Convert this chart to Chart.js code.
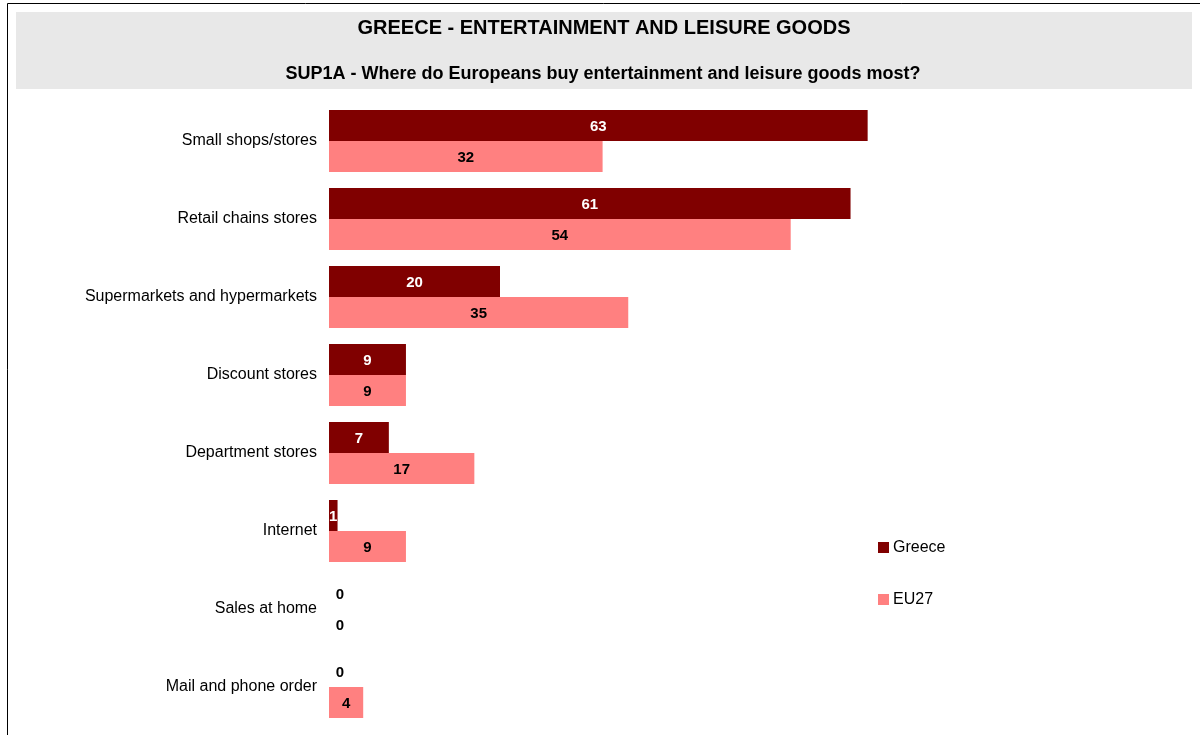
<!DOCTYPE html>
<html>
<head>
<meta charset="utf-8">
<title>Greece - Entertainment and leisure goods</title>
<script src="https://cdn.jsdelivr.net/npm/chart.js"></script>
<style>
  html, body { margin: 0; padding: 0; background: #fff; }
  #wrap { position: relative; width: 1200px; height: 735px; }
</style>
</head>
<body>
<div id="wrap"><canvas id="chart" width="1200" height="735"></canvas></div>
<script>
// chart data
const categories = [
    'Small shops/stores',
    'Retail chains stores',
    'Supermarkets and hypermarkets',
    'Discount stores',
    'Department stores',
    'Internet',
    'Sales at home',
    'Mail and phone order'
];
const greeceValues = [63, 61, 20, 9, 7, 1, 0, 0];
const eu27Values = [32, 54, 35, 9, 17, 9, 0, 4];
const seriesNames = ['Greece', 'EU27'];

const chartTitle = 'GREECE - ENTERTAINMENT AND LEISURE GOODS';
const chartSubtitle = 'SUP1A - Where do Europeans buy entertainment and leisure goods most?';

const COLORS = {
    greece: '#800000',
    eu27: '#ff8080',
    titleBox: '#e8e8e8',
    text: '#000000'
};
const FONT = "Arial, 'Liberation Sans', sans-serif";

// frame + grey title box
const frameAndTitle = {
    id: 'frameAndTitle',
    beforeDraw(chart) {
        const ctx = chart.ctx;
        ctx.save();
        ctx.fillStyle = '#fff';
        ctx.fillRect(0, 0, chart.width, chart.height);
        ctx.fillStyle = COLORS.titleBox;
        ctx.fillRect(16, 12, 1176, 77);
        ctx.strokeStyle = '#000';
        ctx.lineWidth = 1;
        ctx.beginPath();
        ctx.moveTo(7.5, chart.height);
        ctx.lineTo(7.5, 3.5);
        ctx.lineTo(chart.width, 3.5);
        ctx.stroke();
        ctx.fillStyle = COLORS.text;
        ctx.textAlign = 'center';
        ctx.textBaseline = 'middle';
        ctx.font = 'bold 20px ' + FONT;
        ctx.fillText(chartTitle, 604, 28);
        ctx.font = 'bold 18px ' + FONT;
        ctx.fillText(chartSubtitle, 603, 74);
        ctx.restore();
    }
};

// value labels inside the bars
const barLabels = {
    id: 'barLabels',
    afterDatasetsDraw(chart) {
        const ctx = chart.ctx;
        ctx.save();
        ctx.font = 'bold 15px ' + FONT;
        ctx.textAlign = 'center';
        ctx.textBaseline = 'middle';
        chart.data.datasets.forEach((ds, i) => {
            const meta = chart.getDatasetMeta(i);
            meta.data.forEach((bar, j) => {
                const v = ds.data[j];
                let x = (bar.x + bar.base) / 2;
                if (v === 0) {
                    x = bar.base + 11;
                    ctx.fillStyle = COLORS.text;
                } else {
                    ctx.fillStyle = i === 0 ? '#ffffff' : COLORS.text;
                }
                ctx.fillText(String(v), x, bar.y + 1);
            });
        });
        ctx.restore();
    }
};

// legend on the right
const sideLegend = {
    id: 'sideLegend',
    afterDraw(chart) {
        const ctx = chart.ctx;
        ctx.save();
        ctx.font = '16px ' + FONT;
        ctx.textBaseline = 'middle';
        ctx.textAlign = 'left';
        const ys = [547, 599];
        chart.data.datasets.forEach((ds, i) => {
            ctx.fillStyle = ds.backgroundColor;
            ctx.fillRect(878, ys[i] - 5, 11, 11);
            ctx.fillStyle = COLORS.text;
            ctx.fillText(ds.label, 893, ys[i] + 1);
        });
        ctx.restore();
    }
};

new Chart(document.getElementById('chart').getContext('2d'), {
    type: 'bar',
    data: {
        labels: categories,
        datasets: [
            {
                label: seriesNames[0],
                data: greeceValues,
                backgroundColor: COLORS.greece,
                categoryPercentage: 0.795,
                barPercentage: 1
            },
            {
                label: seriesNames[1],
                data: eu27Values,
                backgroundColor: COLORS.eu27,
                categoryPercentage: 0.795,
                barPercentage: 1
            }
        ]
    },
    options: {
        indexAxis: 'y',
        responsive: false,
        animation: false,
        layout: {
            padding: { left: 0, top: 102, right: 16, bottom: 9 }
        },
        plugins: {
            legend: { display: false },
            title: { display: false },
            tooltip: { enabled: false }
        },
        scales: {
            x: {
                display: false,
                min: 0,
                max: 100
            },
            y: {
                grid: { display: false, drawTicks: false },
                border: { display: false },
                ticks: {
                    color: COLORS.text,
                    padding: 12,
                    font: { family: FONT, size: 16 }
                },
                afterFit(scale) {
                    scale.width = 329;
                    scale.paddingTop = 0;
                    scale.paddingBottom = 0;
                }
            }
        }
    },
    plugins: [frameAndTitle, barLabels, sideLegend]
});
</script>
</body>
</html>
